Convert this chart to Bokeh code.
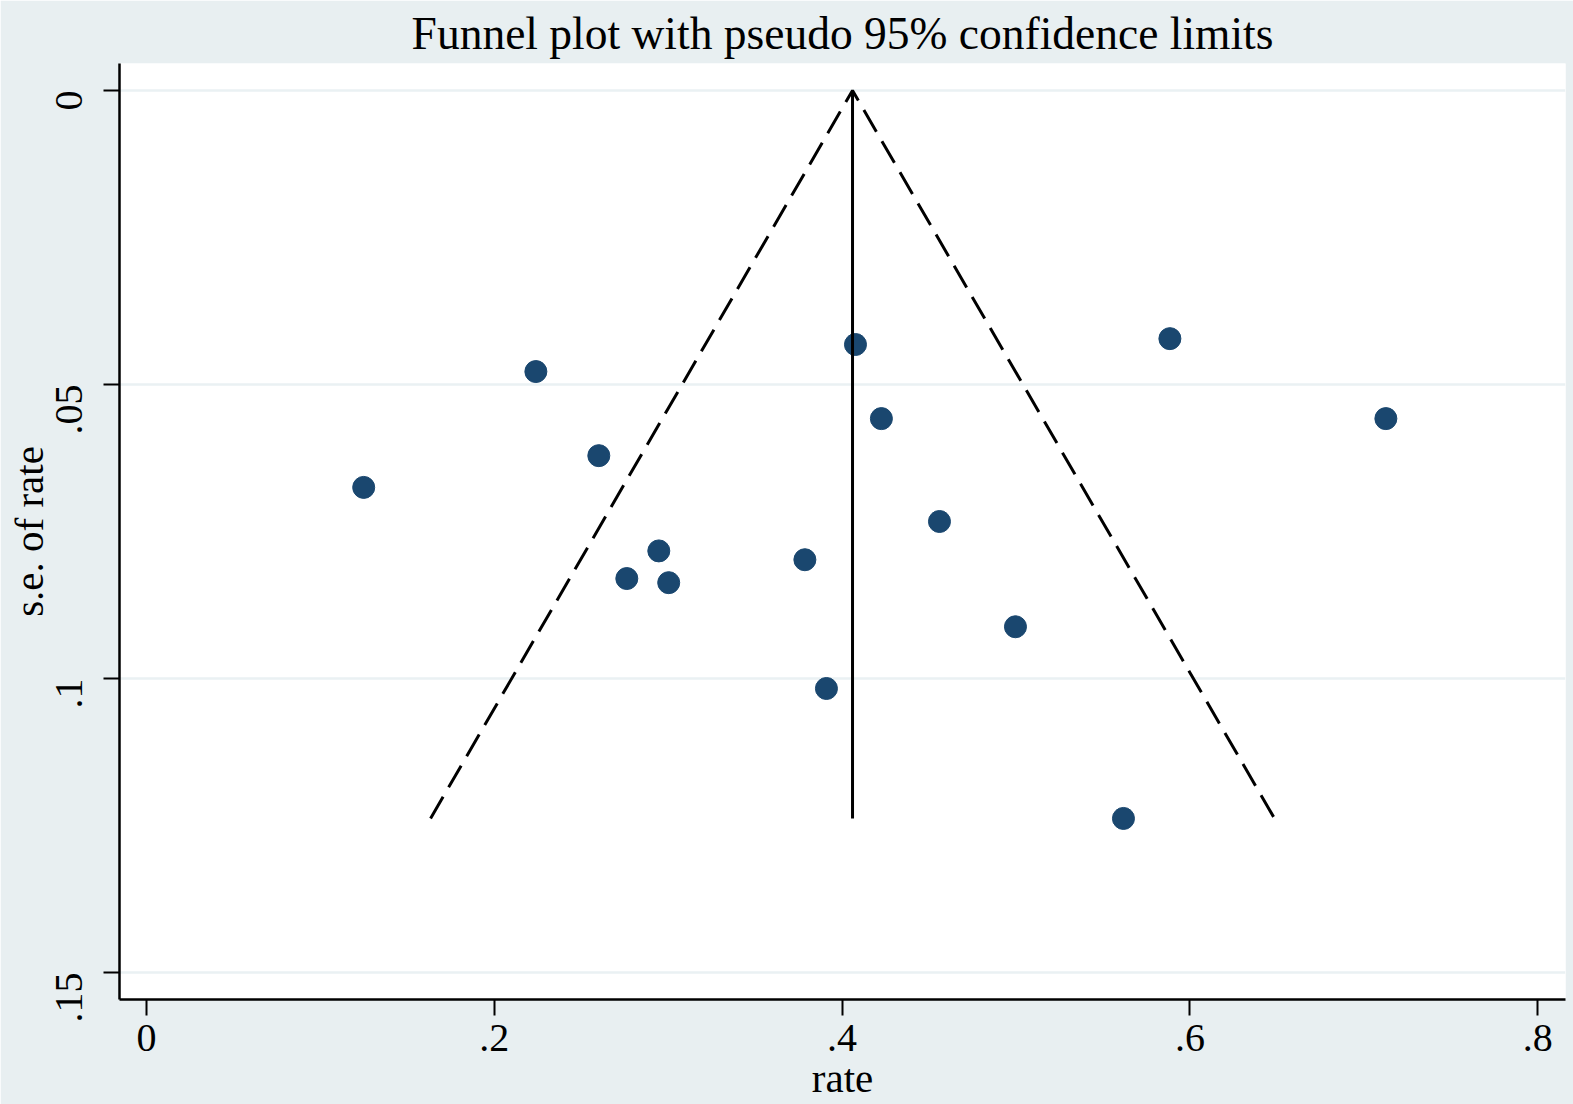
import math
from bokeh.plotting import figure
from bokeh.models import Range1d, FixedTicker, Title
from bokeh.embed import file_html
from bokeh.resources import INLINE

# ---- data ----
rate = [0.1249, 0.2239, 0.2601, 0.2762, 0.2946, 0.3003, 0.3786, 0.3910,
        0.4077, 0.4226, 0.4560, 0.4997, 0.5618, 0.5885, 0.7127]
se_rate = [0.0675, 0.0478, 0.0621, 0.0830, 0.0783, 0.0837, 0.0798, 0.1017,
           0.0432, 0.0558, 0.0733, 0.0912, 0.1238, 0.0422, 0.0558]
pooled_rate = 0.406
x_ticks = [0, 0.2, 0.4, 0.6, 0.8]
x_tick_labels = ["0", ".2", ".4", ".6", ".8"]
y_ticks = [0, 0.05, 0.1, 0.15]
y_tick_labels = ["0", ".05", ".1", ".15"]
title_text = "Funnel plot with pseudo 95% confidence limits"
x_title = "rate"
y_title = "s.e. of rate"

# pseudo 95% confidence limits
se_max = max(se_rate)
lower = pooled_rate - 1.96 * se_max
upper = pooled_rate + 1.96 * se_max

BG = "#E8EFF1"
NAVY = "#1A476F"
FONT = "Liberation Serif"

XR = (-0.01553, 0.8160)
YR = (0.15459, -0.00459)

p = figure(width=1573, height=1104, output_backend="svg", toolbar_location=None,
           x_range=Range1d(*XR), y_range=Range1d(*YR),
           title=title_text,
           min_border_left=119, min_border_right=8, min_border_top=63,
           min_border_bottom=105)

p.background_fill_color = "white"
p.border_fill_color = BG
p.outline_line_color = None

p.title.text_font = FONT
p.title.text_font_size = "45.5px"
p.title.text_font_style = "normal"
p.title.text_color = "black"
p.title.align = "center"
p.title.standoff = 10

p.xaxis.ticker = FixedTicker(ticks=x_ticks)
p.yaxis.ticker = FixedTicker(ticks=y_ticks)
p.xaxis.major_label_overrides = dict(zip(x_ticks, x_tick_labels))
p.yaxis.major_label_overrides = dict(zip(y_ticks, y_tick_labels))
p.yaxis.major_label_orientation = math.pi / 2
p.yaxis.axis_label = y_title

for ax in (p.xaxis[0], p.yaxis[0]):
    ax.axis_line_color = "black"
    ax.axis_line_width = 2.5
    ax.major_tick_line_color = "black"
    ax.major_tick_line_width = 2
    ax.major_tick_out = 16
    ax.major_tick_in = 0
    ax.minor_tick_out = 0
    ax.minor_tick_in = 0
    ax.major_label_text_font = FONT
    ax.major_label_text_font_size = "40px"
    ax.major_label_text_color = "black"
    ax.axis_label_text_font = FONT
    ax.axis_label_text_font_size = "41px"
    ax.axis_label_text_font_style = "normal"
    ax.axis_label_text_color = "black"

p.xaxis.major_label_standoff = 9
p.yaxis.major_label_standoff = 34
p.yaxis.axis_label_standoff = -11

# x-axis title, placed in the panel below the axis
p.add_layout(Title(text=x_title, align="center", text_font=FONT,
                   text_font_size="41px", text_font_style="normal",
                   text_color="black", standoff=-2), "below")

p.xgrid.visible = False
p.ygrid.ticker = FixedTicker(ticks=y_ticks)
p.ygrid.grid_line_color = "#EAF1F3"
p.ygrid.grid_line_width = 2.5

# studies
p.scatter(rate, se_rate, marker="circle", size=22, fill_color=NAVY, line_color=NAVY)

# funnel limits (drawn over the points, as in the reference)
p.line([lower, pooled_rate, upper], [se_max, 0, se_max], line_color="black",
       line_width=3, line_dash="25 11")
p.line([pooled_rate, pooled_rate], [0, se_max], line_color="black", line_width=3)

open("out.html", "w").write(file_html(p, INLINE))
